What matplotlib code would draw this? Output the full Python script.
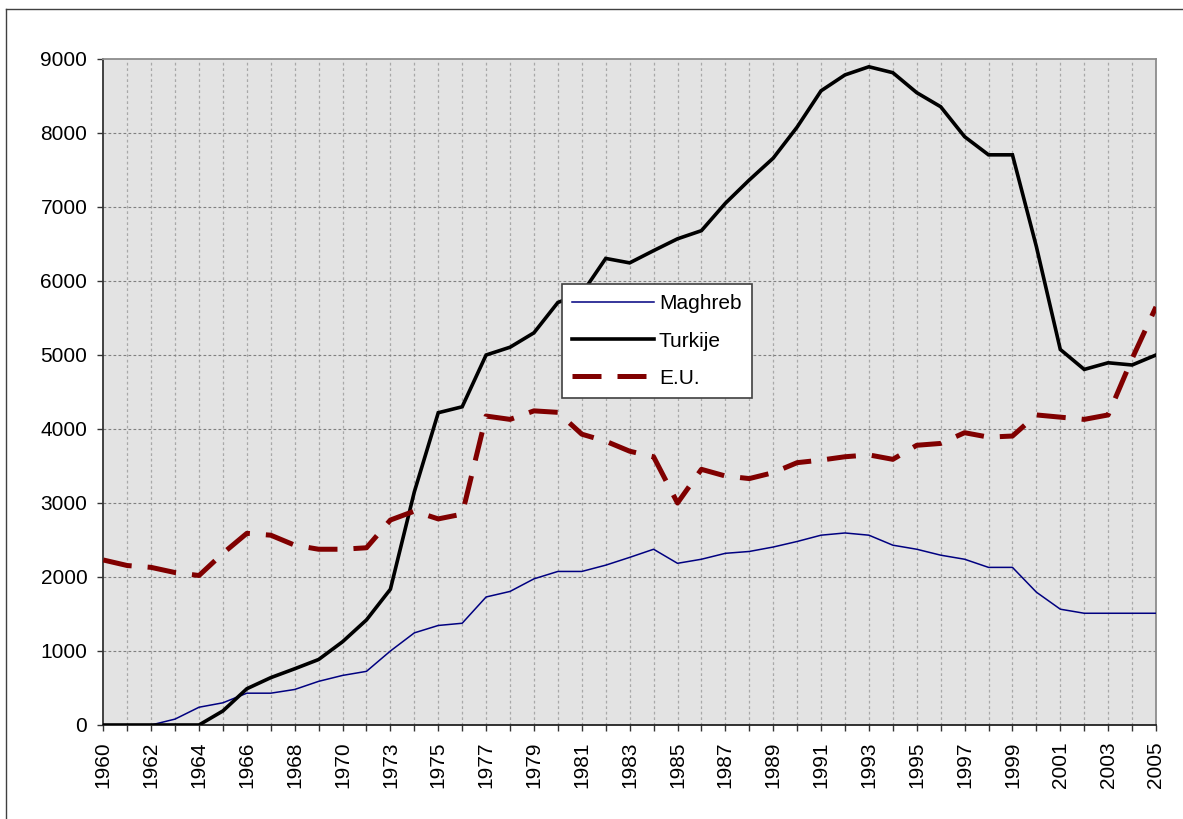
import matplotlib
matplotlib.use('Agg')
import matplotlib.pyplot as plt
from matplotlib.lines import Line2D

plt.rcParams['font.family'] = ['Liberation Sans', 'DejaVu Sans']

# jaartallen (1971 ontbreekt in de reeks)
years = list(range(1960, 1971)) + list(range(1972, 2006))

maghreb = [0, 0, 0, 80, 240, 300, 430, 430, 480, 590, 670, 725, 1000, 1245, 1345,
           1375, 1730, 1805, 1975, 2075, 2075, 2160, 2265, 2375, 2185, 2240, 2320,
           2345, 2405, 2480, 2565, 2595, 2565, 2430, 2375, 2295, 2240, 2130, 2130,
           1795, 1565, 1510, 1510, 1510, 1510]

turkije = [0, 0, 0, 0, 0, 190, 490, 640, 760, 885, 1125, 1420, 1835, 3150, 4220,
           4300, 5000, 5105, 5300, 5710, 5830, 6305, 6245, 6410, 6570, 6680, 7050,
           7365, 7660, 8080, 8570, 8785, 8895, 8815, 8545, 8355, 7950, 7705, 7705,
           6465, 5075, 4805, 4895, 4865, 5000]

eu = [2230, 2155, 2130, 2060, 2020, 2320, 2590, 2565, 2430, 2375, 2375, 2395, 2770,
      2890, 2785, 2850, 4175, 4130, 4245, 4225, 3930, 3835, 3700, 3625, 3000, 3455,
      3365, 3330, 3410, 3545, 3580, 3625, 3650, 3590, 3780, 3805, 3950, 3890, 3905,
      4190, 4160, 4130, 4190, 4950, 5650]

W, H = 1183, 819
fig = plt.figure(figsize=(W / 100, H / 100), dpi=100)
ax = fig.add_axes([103.3 / W, 1 - 725 / H, (1156 - 103.3) / W, (725 - 59) / H])
ax.set_facecolor('#E3E3E3')

x = list(range(len(years)))
ax.plot(x, maghreb, color='#000080', linewidth=1.1, label='Maghreb', zorder=3)
ax.plot(x, turkije, color='black', linewidth=2.6, label='Turkije', zorder=4,
        solid_joinstyle='miter')
ax.plot(x, eu, color='#800000', linewidth=3.6, dashes=(5.8, 3.2),
        dash_capstyle='butt', label='E.U.', zorder=5)

ax.set_xlim(0, len(years) - 1)
ax.set_ylim(0, 9000)
ax.set_yticks(range(0, 9001, 1000))
ax.set_xticks(x)
ax.set_xticklabels([str(y) if i % 2 == 0 else '' for i, y in enumerate(years)],
                   rotation=90)

# raster
for i in x[1:-1]:
    ax.axvline(i, color='#A8A8A8', linewidth=0.9, linestyle=(0, (2.2, 2.2)), zorder=1)
for v in range(1000, 9000, 1000):
    ax.axhline(v, color='#808080', linewidth=0.8, linestyle=(0, (2.5, 2)), zorder=1)

ax.tick_params(axis='both', labelsize=15, length=4.5, width=1, color='#333333',
               direction='out')
ax.tick_params(axis='y', pad=7)
ax.tick_params(axis='x', pad=7.5)

for s in ['top', 'right']:
    ax.spines[s].set_color('#8C8C8C')
    ax.spines[s].set_linewidth(1.3)
ax.spines['left'].set_color('#333333')
ax.spines['left'].set_linewidth(1.3)
ax.spines['bottom'].set_color('#222222')
ax.spines['bottom'].set_linewidth(1.3)

leg = ax.legend(loc='upper left', bbox_to_anchor=(562 / W, 1 - 284 / H),
                bbox_transform=fig.transFigure, borderaxespad=0, borderpad=0.5,
                handlelength=3.9, handletextpad=0.25, labelspacing=0.87,
                fontsize=15, fancybox=False, framealpha=1, facecolor='white',
                edgecolor='#404040')
leg.get_frame().set_linewidth(1.2)
leg.set_zorder(10)

# rand rond de grafiek (links en boven zichtbaar)
fig.add_artist(Line2D([5.7 / W, 5.7 / W], [0, 1 - 9.3 / H], transform=fig.transFigure,
                      color='#404040', linewidth=1))
fig.add_artist(Line2D([5.7 / W, 1], [1 - 9.3 / H, 1 - 9.3 / H], transform=fig.transFigure,
                      color='#404040', linewidth=1))

fig.savefig('out.png', dpi=100)
